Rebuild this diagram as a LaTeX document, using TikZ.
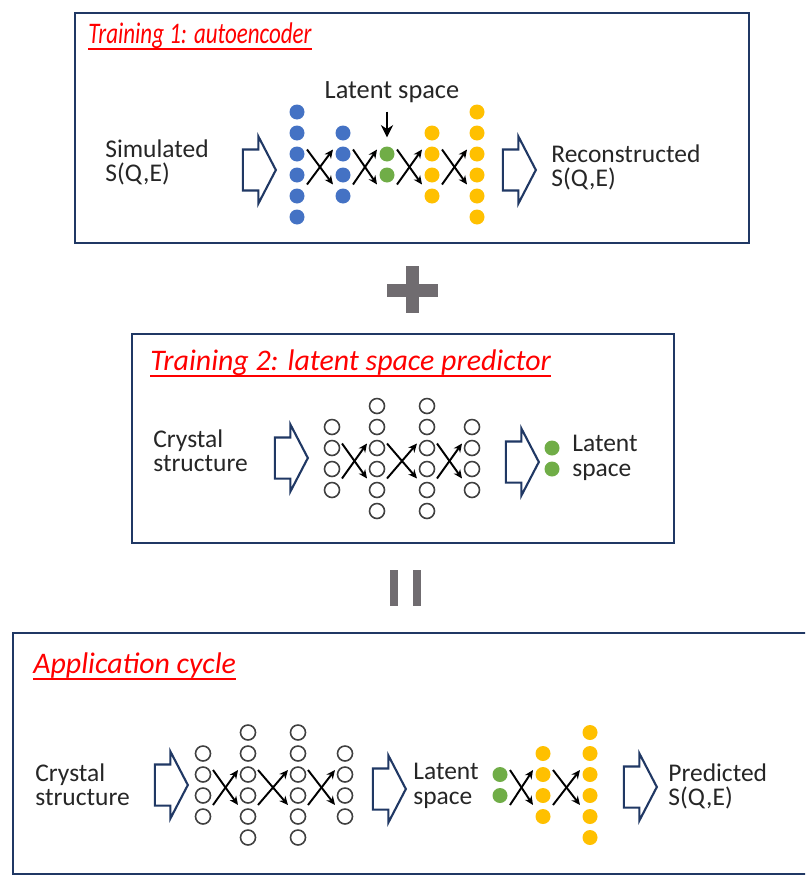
\documentclass[tikz,border=0pt]{standalone}
\usepackage{fontspec}
\setmainfont{Carlito}
\usepackage{tikz}
\usetikzlibrary{arrows.meta, shapes.arrows, calc}
\definecolor{panelnavy}{RGB}{32,56,100}
\definecolor{titlered}{RGB}{255,0,0}
\definecolor{encblue}{RGB}{68,114,196}
\definecolor{decyellow}{RGB}{255,192,0}
\definecolor{latgreen}{RGB}{112,173,71}
\definecolor{signgray}{RGB}{112,108,112}
\definecolor{textdark}{RGB}{38,38,38}

\begin{document}
\begin{tikzpicture}[x=0.02cm, y=-0.02cm,
    panel/.style={draw=panelnavy, line width=1.5pt},
    paneltitle/.style={anchor=base west, inner sep=0pt, text=titlered,
                       font=\itshape\fontsize{17}{20}\selectfont},
    caption/.style={anchor=north west, align=left, inner sep=0pt, text=textdark,
                    font=\fontsize{14.5}{14}\selectfont},
    unit/.style={circle, inner sep=0pt, minimum size=0.3cm},
    encunit/.style={unit, fill=encblue},
    latunit/.style={unit, fill=latgreen},
    decunit/.style={unit, fill=decyellow},
    openunit/.style={unit, draw=black!75, line width=0.9pt},
    blockarrow/.style={single arrow, draw=panelnavy, fill=white, line width=1.2pt,
                       inner xsep=0pt, inner ysep=0.39cm, minimum height=0.66cm,
                       single arrow head extend=0.26cm, single arrow tip angle=125},
    link/.style={-{Stealth[length=5pt, width=4.5pt]}, line width=1.1pt}]

  \fill[white] (0,0) rectangle (805,876);
  \useasboundingbox (0,0) rectangle (805,876);
  \clip (0,0) rectangle (805,876);

  % Training 1: autoencoder
  \draw[panel] (75,13) rectangle (749,243);
  \node[paneltitle, xscale=0.77] (t1) at (88,43) {Training 1: autoencoder};
  \node[caption] (sim) at (105,139) {Simulated\\S(Q,E)};
  \node[blockarrow] (b1) at (254,170) {};
  \foreach \lay/\x/\n/\sty in {e1/297/6/encunit, e2/343/4/encunit, e3/387/2/latunit,
                               e4/432/4/decunit, e5/477/6/decunit} {
    \coordinate (\lay) at (\x,164.5);
    \foreach \i in {1,...,\n}
      \node[\sty] (\lay-\i) at (\x,{164.5+(\i-(\n+1)/2)*21}) {};
  }
  \node[blockarrow] (b2) at (514,170) {};
  \node[caption] (rec) at (551,144) {Reconstructed\\S(Q,E)};
  \node[inner sep=0pt, text=textdark, font=\fontsize{15}{17}\selectfont]
    (latlbl) at (392,92) {Latent space};
  \draw[-{Stealth[length=7pt, width=7pt]}, line width=1.6pt,
        shorten <=5pt, shorten >=5pt]
    (latlbl.south -| e3-1) -- (e3-1.north);

  % plus
  \fill[signgray] (387,284) rectangle (438,297);
  \fill[signgray] (406,266) rectangle (419,313);

  % Training 2: latent space predictor
  \draw[panel] (132,334) rectangle (674,543);
  \node[paneltitle] (t2) at (150,370) {Training 2: latent space predictor};
  \node[caption] (cry1) at (153,429) {Crystal\\structure};
  \node[blockarrow] (b3) at (286,458) {};
  \foreach \lay/\x/\n/\sty in {p1/332/4/openunit, p2/377/6/openunit,
                               p3/427/6/openunit, p4/472/4/openunit, q1/552/2/latunit} {
    \coordinate (\lay) at (\x,458.5);
    \foreach \i in {1,...,\n}
      \node[\sty] (\lay-\i) at (\x,{458.5+(\i-(\n+1)/2)*21}) {};
  }
  \node[blockarrow] (b4) at (517,462) {};
  \node[caption] (lat1) at (572,435) {Latent\\space};

  % equals
  \fill[signgray] (390,570) rectangle (398,606);
  \fill[signgray] (413,570) rectangle (421,606);

  % Application cycle
  \draw[panel] (13,633) rectangle (830,874);
  \node[paneltitle] (t3) at (33,673) {Application cycle};
  \node[caption] (cry2) at (35,763) {Crystal\\structure};
  \node[blockarrow] (b5) at (166,785) {};
  \foreach \lay/\x/\n/\sty in {r1/203/4/openunit, r2/248/6/openunit,
                               r3/298/6/openunit, r4/345/4/openunit,
                               s1/500/2/latunit, s2/543/4/decunit, s3/590/6/decunit} {
    \coordinate (\lay) at (\x,785);
    \foreach \i in {1,...,\n}
      \node[\sty] (\lay-\i) at (\x,{785+(\i-(\n+1)/2)*21}) {};
  }
  \node[blockarrow] (b6) at (384,789) {};
  \node[caption] (lat2) at (413,763) {Latent\\space};
  \node[blockarrow] (b7) at (635,787) {};
  \node[caption] (pred) at (668,763) {Predicted\\S(Q,E)};

  % underlined titles
  \foreach \t in {t1, t2, t3}
    \draw[titlered, line width=1pt]
      ([yshift=-3.5pt]\t.base west) -- ([yshift=-3.5pt]\t.base east);

  % crossing weights
  \foreach \a/\b in {e1/e2, e2/e3, e3/e4, e4/e5, p1/p2, p2/p3, p3/p4,
                     r1/r2, r2/r3, r3/r4, s1/s2, s2/s3} {
    \draw[link] ($(\a)+(10,-15)$) -- ($(\b)+(-10,20)$);
    \draw[link] ($(\a)+(10,20)$) -- ($(\b)+(-10,-15)$);
  }
\end{tikzpicture}
\end{document}
